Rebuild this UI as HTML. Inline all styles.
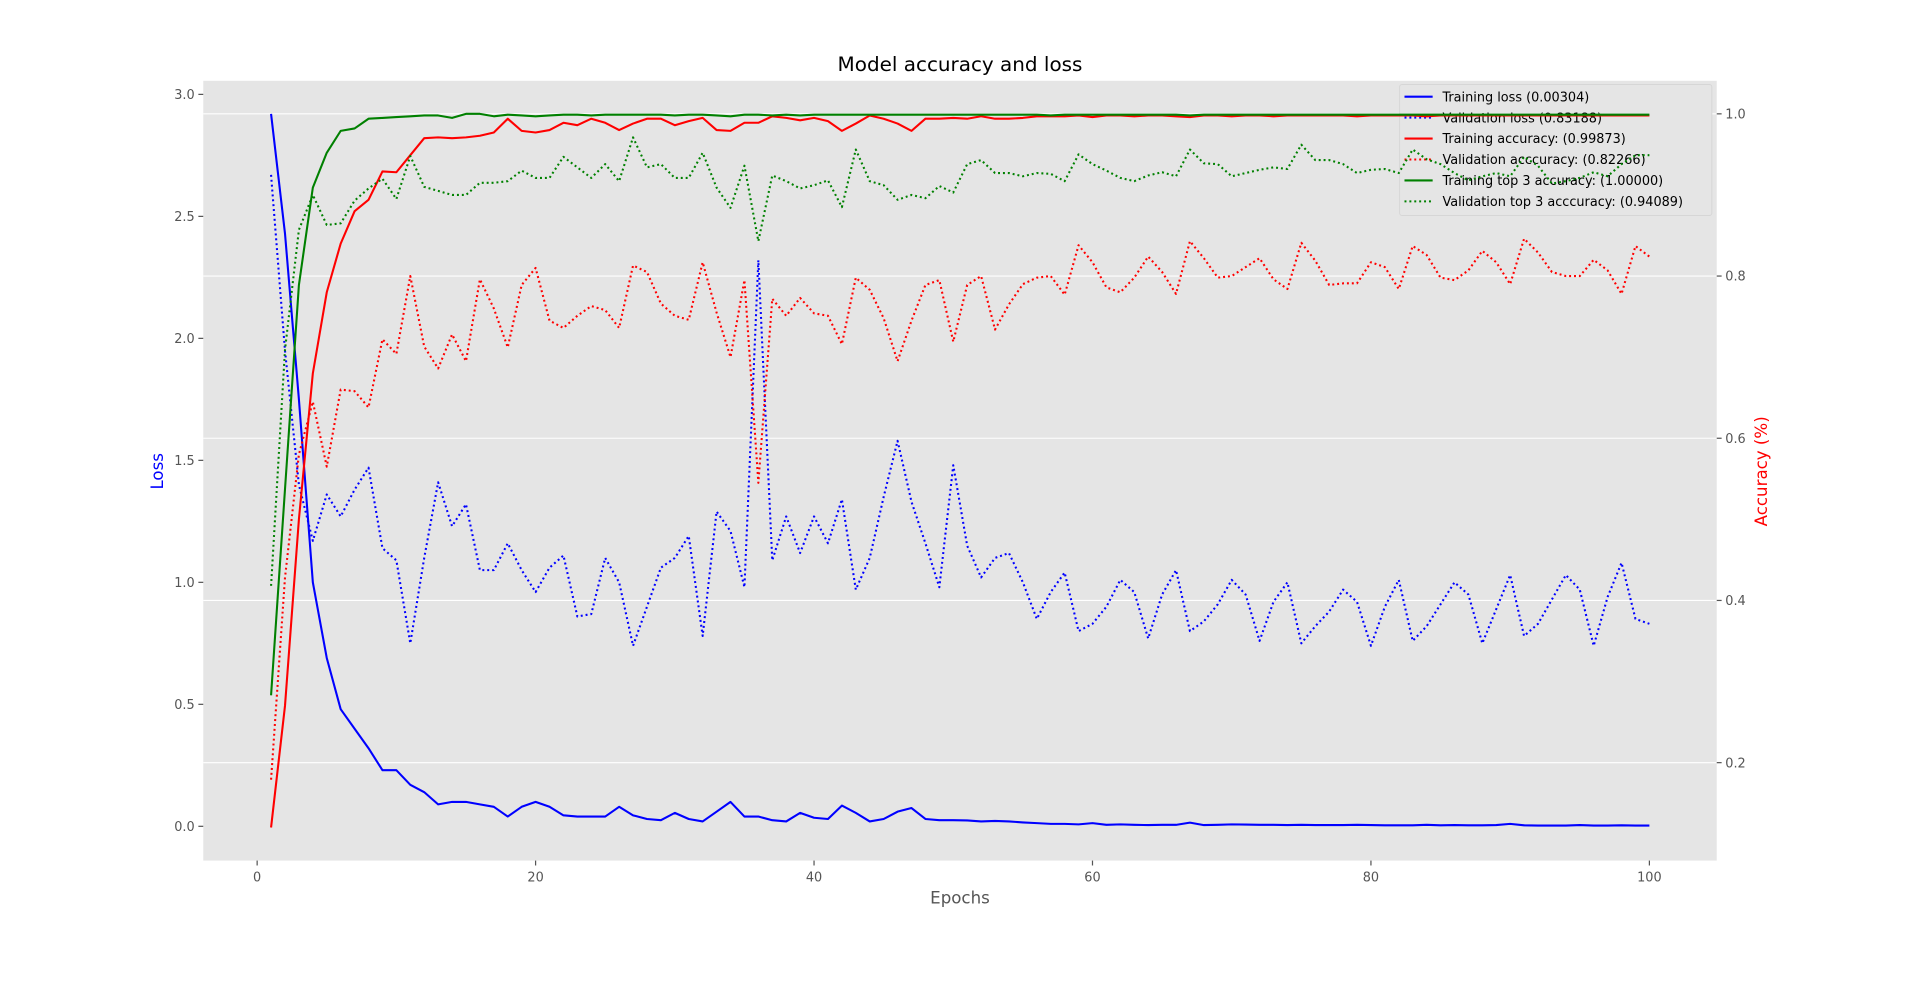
<!DOCTYPE html>
<html><head><meta charset="utf-8"><style>
html,body{margin:0;padding:0;background:#fff;}
svg{display:block;font-family:"DejaVu Sans","Liberation Sans",sans-serif;}
</style></head><body>
<svg id="chart" width="1920" height="983" viewBox="0 0 1568 803" preserveAspectRatio="none" xmlns="http://www.w3.org/2000/svg">
<rect x="166" y="66" width="1236" height="637" fill="#E5E5E5"/>
<g id="grid"></g>
<g id="lossLines"></g>
<g id="legend"></g>
<g id="accLines"></g>
<g id="axes"></g>
<text x="784" y="58" text-anchor="middle" font-size="16.3" fill="#000">Model accuracy and loss</text>
<text x="784" y="738" text-anchor="middle" font-size="13.6" fill="#555">Epochs</text>
<text transform="translate(133,385) rotate(-90)" text-anchor="middle" font-size="13.6" fill="#0000ff">Loss</text>
<text transform="translate(1443,385) rotate(-90)" text-anchor="middle" font-size="13.6" fill="#ff0000">Accuracy (%)</text>
</svg>
<script>
const epochs = Array.from({length:100},(_,i)=>i+1);
const trainLoss = [2.92,2.43,1.75,1.0,0.69,0.48,0.40,0.32,0.23,0.23,0.17,0.14,0.09,0.10,0.10,0.09,0.08,0.04,0.08,0.10,0.08,0.045,0.04,0.04,0.04,0.08,0.045,0.03,0.025,0.055,0.03,0.02,0.06,0.10,0.04,0.04,0.025,0.02,0.055,0.035,0.03,0.085,0.055,0.02,0.03,0.06,0.075,0.03,0.025,0.025,0.024,0.02,0.022,0.02,0.016,0.013,0.01,0.01,0.008,0.013,0.006,0.008,0.006,0.005,0.006,0.006,0.015,0.005,0.006,0.008,0.007,0.006,0.006,0.005,0.006,0.005,0.005,0.005,0.006,0.005,0.004,0.004,0.004,0.006,0.004,0.005,0.004,0.004,0.005,0.01,0.004,0.003,0.003,0.003,0.005,0.003,0.003,0.004,0.003,0.003];
const valLoss = [2.67,1.95,1.4,1.17,1.36,1.27,1.38,1.47,1.14,1.09,0.75,1.1,1.41,1.23,1.32,1.05,1.05,1.16,1.05,0.96,1.06,1.11,0.86,0.87,1.1,1.0,0.74,0.9,1.06,1.1,1.19,0.78,1.29,1.21,0.98,2.32,1.09,1.27,1.12,1.27,1.16,1.34,0.97,1.1,1.35,1.58,1.33,1.16,0.98,1.48,1.15,1.02,1.1,1.12,1.0,0.85,0.96,1.04,0.8,0.83,0.9,1.01,0.96,0.77,0.95,1.05,0.8,0.84,0.91,1.01,0.95,0.76,0.92,1.0,0.75,0.82,0.88,0.97,0.92,0.74,0.9,1.01,0.76,0.82,0.91,1.0,0.95,0.75,0.89,1.03,0.78,0.83,0.93,1.03,0.97,0.74,0.94,1.08,0.85,0.83];
const trainAcc = [0.12,0.27,0.50,0.68,0.78,0.84,0.88,0.894,0.929,0.928,0.949,0.97,0.971,0.97,0.971,0.973,0.977,0.994,0.979,0.977,0.980,0.989,0.986,0.994,0.989,0.980,0.988,0.994,0.994,0.986,0.991,0.995,0.980,0.979,0.989,0.989,0.997,0.995,0.992,0.995,0.991,0.979,0.988,0.998,0.994,0.988,0.979,0.994,0.994,0.995,0.994,0.997,0.994,0.994,0.995,0.997,0.997,0.997,0.998,0.996,0.998,0.998,0.997,0.998,0.998,0.997,0.996,0.998,0.998,0.997,0.998,0.998,0.997,0.998,0.998,0.998,0.998,0.998,0.997,0.998,0.998,0.998,0.998,0.997,0.998,0.998,0.998,0.998,0.998,0.998,0.998,0.998,0.998,0.998,0.998,0.998,0.998,0.998,0.998,0.998];
const valAcc = [0.179,0.428,0.58,0.645,0.565,0.66,0.658,0.638,0.722,0.704,0.80,0.713,0.686,0.728,0.695,0.796,0.76,0.712,0.789,0.81,0.745,0.736,0.751,0.763,0.758,0.736,0.813,0.805,0.766,0.751,0.746,0.817,0.755,0.70,0.795,0.545,0.772,0.751,0.773,0.754,0.751,0.716,0.798,0.783,0.748,0.695,0.745,0.789,0.795,0.719,0.789,0.80,0.734,0.765,0.79,0.798,0.80,0.777,0.838,0.817,0.786,0.78,0.798,0.824,0.805,0.778,0.843,0.822,0.798,0.80,0.811,0.822,0.796,0.784,0.841,0.819,0.789,0.791,0.791,0.817,0.811,0.784,0.837,0.826,0.798,0.795,0.807,0.831,0.817,0.79,0.846,0.829,0.805,0.80,0.80,0.82,0.807,0.778,0.837,0.824];
const trainTop3 = [0.283,0.537,0.789,0.909,0.952,0.979,0.982,0.994,0.995,0.996,0.997,0.998,0.998,0.995,1.0,1.0,0.997,0.999,0.998,0.997,0.998,0.999,0.999,0.998,0.999,0.999,0.999,0.999,0.999,0.998,0.999,0.999,0.998,0.997,0.999,0.999,0.998,0.999,0.998,0.999,0.999,0.999,0.999,0.999,0.999,0.999,0.999,0.999,0.999,0.999,0.999,0.999,0.999,0.999,0.999,0.999,0.998,0.999,0.999,0.999,0.999,0.999,0.999,0.999,0.999,0.999,0.998,0.999,0.999,0.999,0.999,0.999,0.999,0.999,0.999,0.999,0.999,0.999,0.999,0.999,0.999,0.999,0.999,0.999,0.999,0.999,0.999,0.999,0.999,0.999,0.999,0.999,0.999,0.999,0.999,0.999,0.999,0.999,0.999,0.999];
const valTop3 = [0.418,0.709,0.857,0.90,0.863,0.865,0.893,0.908,0.92,0.895,0.948,0.91,0.905,0.90,0.90,0.915,0.915,0.917,0.93,0.921,0.921,0.947,0.934,0.921,0.938,0.917,0.971,0.934,0.938,0.921,0.921,0.952,0.909,0.884,0.936,0.843,0.924,0.917,0.908,0.912,0.918,0.885,0.956,0.917,0.912,0.894,0.90,0.896,0.911,0.903,0.938,0.943,0.927,0.927,0.923,0.927,0.926,0.917,0.95,0.938,0.93,0.921,0.917,0.924,0.928,0.923,0.956,0.939,0.938,0.923,0.927,0.931,0.934,0.932,0.962,0.943,0.943,0.938,0.927,0.931,0.932,0.927,0.956,0.944,0.938,0.927,0.918,0.923,0.927,0.923,0.947,0.936,0.914,0.917,0.921,0.928,0.923,0.938,0.949,0.949];
const xTicks = [0,20,40,60,80,100];
const lossTicks = [0,0.5,1.0,1.5,2.0,2.5,3.0];
const accTicks = [0.2,0.4,0.6,0.8,1.0];
const legendLabels = ["Training loss (0.00304)","Validation loss (0.83188)","Training accuracy: (0.99873)","Validation acccuracy: (0.82266)","Training top 3 accuracy: (1.00000)","Validation top 3 acccuracy: (0.94089)"];

const NS="http://www.w3.org/2000/svg";
const xs = e => 210 + (e-0)*(1347-210)/100;
const yL = v => 675 - v*199.3;
const yR = v => 755.5 - v*662.5;
function mk(tag, parent){const el=document.createElementNS(NS,tag);parent.appendChild(el);return el;}
const grid=document.getElementById('grid'), axes=document.getElementById('axes');
accTicks.forEach(t=>{
  const l=mk('line',grid);
  
  
  l.setAttribute('x1',166);l.setAttribute('x2',1402);l.setAttribute('y1',yR(t));l.setAttribute('y2',yR(t));
  l.setAttribute('stroke','#fff');l.setAttribute('stroke-width','0.9');
  const tk=mk('line',axes);
  
  
  tk.setAttribute('x1',1402);tk.setAttribute('x2',1406);tk.setAttribute('y1',yR(t));tk.setAttribute('y2',yR(t));tk.setAttribute('stroke','#555');
  const tx=mk('text',axes);
  
  
  tx.setAttribute('x',1409);tx.setAttribute('y',yR(t)+3.8);tx.setAttribute('font-size','10.5');tx.setAttribute('fill','#555');
  tx.textContent=t.toFixed(1);
});
lossTicks.forEach(t=>{
  const tk=mk('line',axes);
  
  
  tk.setAttribute('x1',162);tk.setAttribute('x2',166);tk.setAttribute('y1',yL(t));tk.setAttribute('y2',yL(t));tk.setAttribute('stroke','#555');
  const tx=mk('text',axes);
  
  
  tx.setAttribute('x',159);tx.setAttribute('y',yL(t)+3.8);tx.setAttribute('font-size','10.5');tx.setAttribute('fill','#555');tx.setAttribute('text-anchor','end');
  tx.textContent=t.toFixed(1);
});
xTicks.forEach(t=>{
  const tk=mk('line',axes);
  
  
  tk.setAttribute('x1',xs(t));tk.setAttribute('x2',xs(t));tk.setAttribute('y1',703);tk.setAttribute('y2',707);tk.setAttribute('stroke','#555');
  const tx=mk('text',axes);
  
  
  tx.setAttribute('x',xs(t));tx.setAttribute('y',720);tx.setAttribute('font-size','10.5');tx.setAttribute('fill','#555');tx.setAttribute('text-anchor','middle');
  tx.textContent=t;
});
const dot="1.6,2.4";
function series(parent,data,yf,color,dashed,name){
  const p=mk('polyline',parent);
  
  
  p.setAttribute('points',data.map((v,i)=>xs(epochs[i])+','+yf(v)).join(' '));
  p.setAttribute('fill','none');p.setAttribute('stroke',color);p.setAttribute('stroke-width','1.7');
  p.setAttribute('stroke-linejoin','round');
  if(dashed)p.setAttribute('stroke-dasharray',dot);
}
const lossG=document.getElementById('lossLines'), accG=document.getElementById('accLines');
series(lossG,trainLoss,yL,'#0000ff',false,'training-loss-line');
series(lossG,valLoss,yL,'#0000ff',true,'validation-loss-line');
series(accG,trainAcc,yR,'#ff0000',false,'training-accuracy-line');
series(accG,valAcc,yR,'#ff0000',true,'validation-accuracy-line');
series(accG,trainTop3,yR,'#008000',false,'training-top3-line');
series(accG,valTop3,yR,'#008000',true,'validation-top3-line');
const lg=document.getElementById('legend');
const box=mk('rect',lg);


box.setAttribute('x',1143);box.setAttribute('y',69);box.setAttribute('width',255);box.setAttribute('height',107);box.setAttribute('rx',2);
box.setAttribute('fill','#E5E5E5');box.setAttribute('stroke','#d6d6d6');box.setAttribute('stroke-width','0.8');
const cols=['#0000ff','#0000ff','#ff0000','#ff0000','#008000','#008000'];
legendLabels.forEach((lab,i)=>{
  const y=79+i*17.1;
  const l=mk('line',lg);
  
  
  l.setAttribute('x1',1147);l.setAttribute('x2',1170);l.setAttribute('y1',y);l.setAttribute('y2',y);
  l.setAttribute('stroke',cols[i]);l.setAttribute('stroke-width','1.7');
  if(i%2===1)l.setAttribute('stroke-dasharray',dot);
  const t=mk('text',lg);
  
  
  t.setAttribute('x',1178);t.setAttribute('y',y+3.8);t.setAttribute('font-size','10.5');t.setAttribute('fill','#000');
  t.textContent=lab;
});
</script>
</body></html>
